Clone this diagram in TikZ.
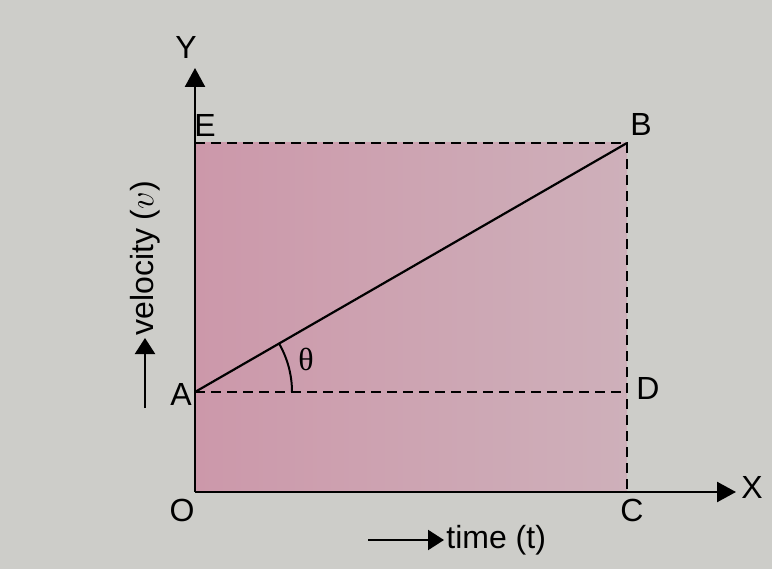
\documentclass[tikz,border=0pt]{standalone}
\usepackage{fontspec}
\setmainfont{Liberation Sans}
\newfontfamily\thetafont{Liberation Serif}
\usetikzlibrary{arrows.meta}
\definecolor{paper}{RGB}{205,205,201}
\definecolor{vtshadeL}{RGB}{204,152,170}
\definecolor{vtshadeR}{RGB}{206,176,186}
\begin{document}
\begin{tikzpicture}[x=.5pt,y=.5pt,font=\fontsize{16}{19}\selectfont,
    axis/.style={line width=1.25pt,-{Triangle[length=9.5pt,width=10pt]}},
    guide/.style={line width=1pt,dash pattern=on 5pt off 3pt},
    pointer/.style={line width=1.1pt,-{Triangle[length=8pt,width=10pt]}}]
    % Papier und Rahmen
    \fill[paper] (0,0) rectangle (772,569);
    \useasboundingbox (0,0) rectangle (772,569);
    \coordinate (O) at (195,77);
    \coordinate (C) at (627,77);
    \coordinate (B) at (627,426);
    \coordinate (E) at (195,426);
    \coordinate (A) at (195,177);
    \coordinate (D) at (627,177);
    \coordinate (Ytip) at (195,501);
    \coordinate (Xtip) at (736,77);
    \shade[left color=vtshadeL,right color=vtshadeR] (O) rectangle (B);
    \draw[axis] (O) -- (Ytip);
    \draw[axis] (O) -- (Xtip);
    \draw[guide] (E) -- (B) -- (C);
    \draw[guide] (A) -- (D);
    \draw[line width=1.1pt] (A) -- (B);
    \draw[line width=1pt] ([shift={(0:97)}]A) arc (0:30:97);
    \node at (186,522) {Y};
    \node at (752,82) {X};
    \node at (182,59) {O};
    \node at (632,59) {C};
    \node at (205,444) {E};
    \node at (641,445) {B};
    \node at (181,175) {A};
    \node at (648,181) {D};
    \node at (306,210) {\thetafont θ};
    % Achsenbeschriftungen mit Pfeil
    \node[rotate=90,anchor=west,inner sep=1pt] (vel) at (145,231) {velocity (\(v\))};
    \coordinate (velstart) at (145,161);
    \draw[pointer] (velstart) -- (vel.west);
    \node[anchor=west,inner sep=1pt] (tim) at (444,29) {time (t)};
    \coordinate (timstart) at (368,29);
    \draw[pointer] (timstart) -- (tim.west);
\end{tikzpicture}
\end{document}
